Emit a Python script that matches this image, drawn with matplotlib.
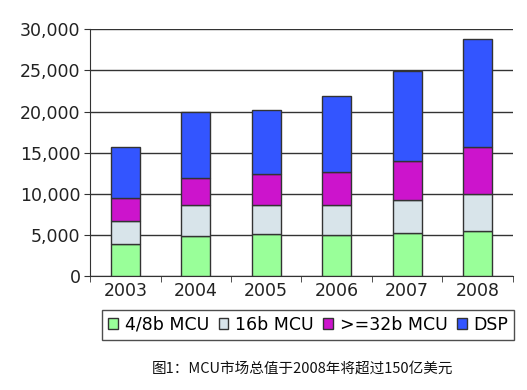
import matplotlib
matplotlib.use("Agg")
import matplotlib.pyplot as plt
import numpy as np
from matplotlib.ticker import FuncFormatter, MultipleLocator

years = ["2003", "2004", "2005", "2006", "2007", "2008"]
mcu_4_8b = [3900, 4850, 5100, 4950, 5250, 5450]
mcu_16b = [2850, 3850, 3600, 3750, 4000, 4550]
mcu_32b = [2750, 3250, 3650, 4000, 4750, 5700]
dsp = [6200, 7950, 7800, 9200, 10950, 13150]
series_names = ["4/8b MCU", "16b MCU", ">=32b MCU", "DSP"]
caption = "图1：MCU市场总值于2008年将超过150亿美元"

colors = ["#99FF99", "#D8E4EA", "#CC14CC", "#3355FF"]

plt.rcParams['font.family'] = ['DejaVu Sans', 'Noto Sans CJK SC']

fig = plt.figure(figsize=(5.27, 3.90), dpi=100)
ax = fig.add_axes([0.171, 0.292, 0.802, 0.633])

x = np.arange(len(years))
bottom = np.zeros(len(years))
handles = []
for vals, col, name in zip([mcu_4_8b, mcu_16b, mcu_32b, dsp], colors, series_names):
    b = ax.bar(x, vals, width=0.41, bottom=bottom, color=col, edgecolor="#333333",
               linewidth=1.0, label=name, zorder=3)
    handles.append(b)
    bottom += np.array(vals)

ax.set_xlim(-0.5, len(years) - 0.5)
ax.set_ylim(0, 30000)
ax.yaxis.set_major_locator(MultipleLocator(5000))
ax.yaxis.set_major_formatter(FuncFormatter(lambda v, p: f"{int(v):,}"))
ax.grid(axis="y", color="#333333", linewidth=1.0, zorder=0)
ax.set_axisbelow(True)

for s in ["top", "right"]:
    ax.spines[s].set_visible(False)
ax.spines["left"].set_color("#333333")
ax.spines["bottom"].set_color("#333333")

ax.set_xticks(x)
ax.set_xticklabels(years)
ax.set_xticks(np.arange(-0.5, len(years)), minor=True)
ax.tick_params(axis="x", which="major", length=0, labelsize=12.5, pad=4, colors="#222222")
ax.tick_params(axis="x", which="minor", length=4, color="#333333", direction="out")
ax.tick_params(axis="y", length=4, color="#333333", labelsize=12.5, colors="#222222", pad=3)
for lab in ax.get_xticklabels() + ax.get_yticklabels():
    lab.set_color("#222222")

leg = fig.legend(handles=handles, labels=series_names, loc="center",
                 bbox_to_anchor=(0.585, 0.167), ncol=4, frameon=True, fancybox=False,
                 edgecolor="#222222", fontsize=12.5, handlelength=0.55, handleheight=0.55,
                 handletextpad=0.4, columnspacing=0.55, borderpad=0.35, borderaxespad=0)
leg.get_frame().set_linewidth(1.0)

fig.text(0.575, 0.056, caption, ha="center", va="center", fontsize=10.5,
         family=['Noto Sans CJK SC', 'DejaVu Sans'], color="#111111")

fig.savefig("out.png", dpi=100)
